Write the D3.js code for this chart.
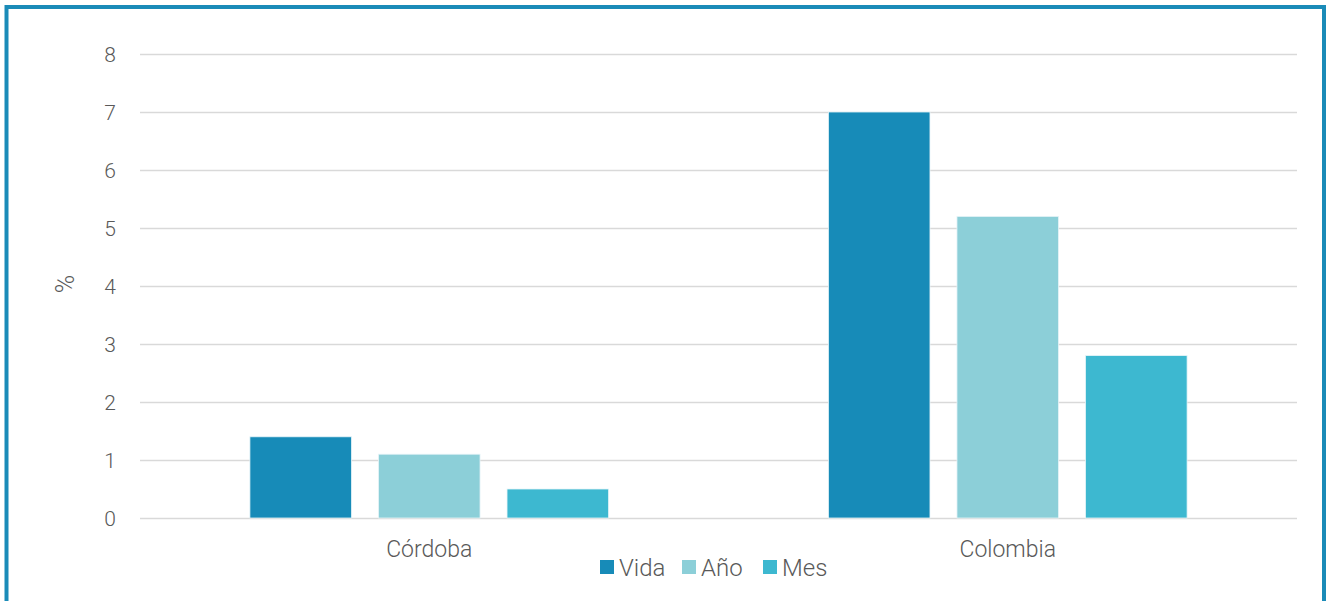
<!DOCTYPE html>
<html>
<head>
<meta charset="utf-8">
<script src="https://cdn.jsdelivr.net/npm/d3@7"></script>
<style>
  html, body { margin: 0; padding: 0; background: #fff; }
  svg { display: block; font-family: Roboto, sans-serif; font-weight: 300; }
</style>
</head>
<body>
<script>
// data
const categories = ["Córdoba", "Colombia"];
const series = ["Vida", "Año", "Mes"];
const vida = [1.4, 7.0];
const anio = [1.1, 5.2];
const mes = [0.5, 2.8];
const yTicks = [0, 1, 2, 3, 4, 5, 6, 7, 8];
const colors = ["#178bb8", "#8ccfd8", "#3db8d0"];

const width = 1326, height = 601;
const m = { left: 140, right: 1297, top: 54, bottom: 518 };

const values = [vida, anio, mes];
const rows = categories.map((c, i) => ({
	cat: c,
	vals: series.map((s, j) => ({ key: s, value: values[j][i] }))
}));

const svg = d3.select("body")
	.append("svg")
	.attr("width", width)
	.attr("height", height);

// frame
svg.append("rect")
	.attr("x", 6.5).attr("y", 7)
	.attr("width", 1317.5).attr("height", 620)
	.attr("fill", "none")
	.attr("stroke", "#1a8bb8")
	.attr("stroke-width", 4);

const x0 = d3.scaleBand()
	.domain(categories)
	.range([m.left, m.right]);
const bw = x0.bandwidth();
const x1 = d3.scaleBand()
	.domain(series)
	.range([bw * 0.19, bw * 0.81])
	.paddingInner(0.21);
const y = d3.scaleLinear()
	.domain([0, 8])
	.range([m.bottom, m.top]);

// grid + tick labels
const yAxis = svg.append("g")
	.attr("transform", `translate(${m.left},0)`)
	.call(d3.axisLeft(y).tickValues(yTicks).tickSize(-(m.right - m.left)).tickPadding(24));
yAxis.select(".domain").remove();
yAxis.selectAll(".tick line").attr("stroke", "#d9d9d9").attr("stroke-width", 1.5);
yAxis.selectAll(".tick text")
	.attr("fill", "#595959")
	.attr("dy", "0.36em")
	.style("font-size", "21px")
	.style("font-family", "Roboto, sans-serif")
	.style("font-weight", 300);

// bars
svg.append("g")
	.selectAll("g")
	.data(rows)
	.join("g")
	.attr("transform", d => `translate(${x0(d.cat)},0)`)
	.selectAll("rect")
	.data(d => d.vals)
	.join("rect")
	.attr("x", d => x1(d.key))
	.attr("y", d => y(d.value))
	.attr("width", x1.bandwidth())
	.attr("height", d => y(0) - y(d.value))
	.attr("fill", (d, i) => colors[i])
	.attr("stroke", "#e6f4f8")
	.attr("stroke-width", 0.8);

// category labels
svg.append("g")
	.selectAll("text")
	.data(categories)
	.join("text")
	.attr("x", d => x0(d) + bw / 2)
	.attr("y", 557)
	.attr("text-anchor", "middle")
	.attr("fill", "#595959")
	.style("font-size", "23px")
	.text(d => d);

// y title
svg.append("text")
	.attr("transform", "translate(74,284) rotate(-90)")
	.attr("text-anchor", "middle")
	.attr("fill", "#595959")
	.style("font-size", "25px")
	.text("%");

// legend
const legendX = [600, 682, 763];
const lg = svg.append("g")
	.selectAll("g")
	.data(series)
	.join("g")
	.attr("transform", (d, i) => `translate(${legendX[i]},560)`);
lg.append("rect")
	.attr("width", 14).attr("height", 14)
	.attr("fill", (d, i) => colors[i]);
lg.append("text")
	.attr("x", 19).attr("y", 16)
	.attr("fill", "#595959")
	.style("font-size", "24px")
	.text(d => d);
</script>
</body>
</html>
